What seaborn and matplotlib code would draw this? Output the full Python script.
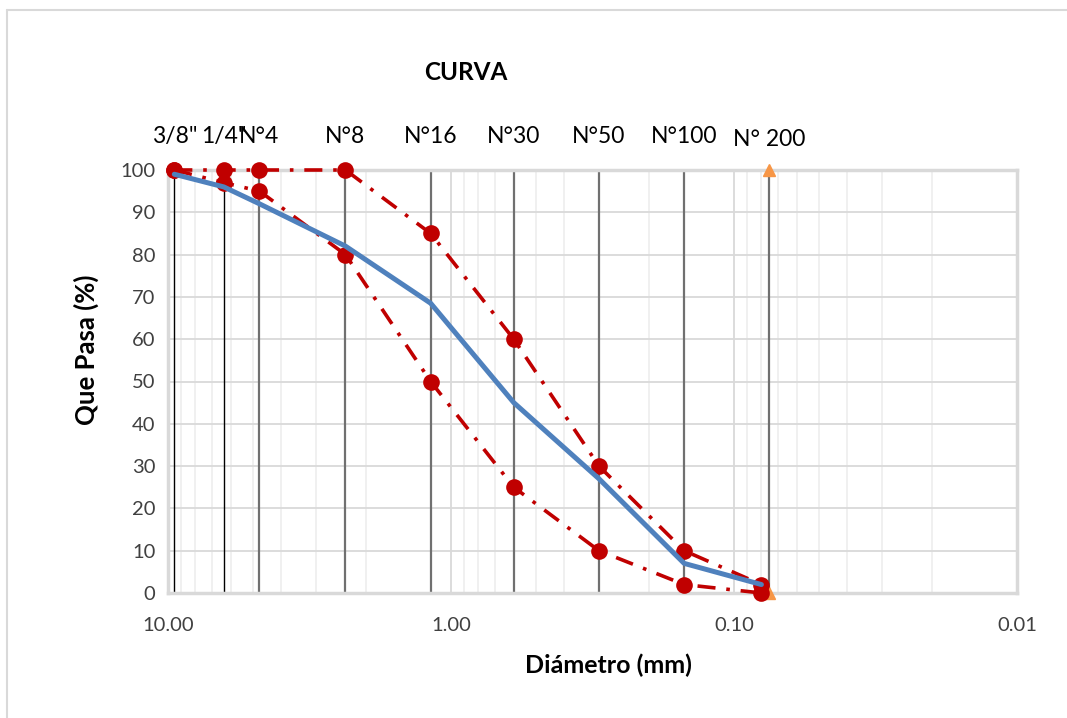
import matplotlib
matplotlib.use("Agg")
import matplotlib.pyplot as plt
import seaborn as sns
import numpy as np
import pandas as pd
from matplotlib.lines import Line2D
from matplotlib.ticker import FixedLocator, FuncFormatter, LogLocator, NullFormatter

# ---------------- data ----------------
sieve_labels = ['3/8"', '1/4"', 'N°4', 'N°8', 'N°16', 'N°30', 'N°50', 'N°100', 'N° 200']
sieve_mm = [9.5, 6.35, 4.75, 2.36, 1.18, 0.6, 0.3, 0.15, 0.075]
data_mm = [9.5, 6.35, 4.75, 2.36, 1.18, 0.6, 0.3, 0.15, 0.08]
curva = [99, 96, 92, 82, 68.5, 45, 27, 7, 2]
limite_sup = [100, 100, 100, 100, 85, 60, 30, 10, 2]
limite_inf = [100, 97, 95, 80, 50, 25, 10, 2, 0]
n200_marks = [100, 0]
x_ticks = [10, 1, 0.1, 0.01]
y_ticks = list(range(0, 101, 10))

# ---------------- style ----------------
sns.set_style("white")
plt.rcParams['font.family'] = ['Lato', 'DejaVu Sans']

W, H = 1067, 718
fig = plt.figure(figsize=(W / 100, H / 100), dpi=100)
ax = fig.add_axes([168 / W, 1 - 593 / H, (1017 - 168) / W, (593 - 170) / H])

ax.set_xscale('log')
ax.set_xlim(10, 0.01)
ax.set_ylim(0, 100)

# grid
ax.xaxis.set_major_locator(FixedLocator(x_ticks))
ax.xaxis.set_minor_locator(LogLocator(base=10, subs=np.arange(2, 10)))
ax.xaxis.set_minor_formatter(NullFormatter())
ax.xaxis.set_major_formatter(FuncFormatter(lambda v, p: f"{v:.2f}"))
ax.set_yticks(y_ticks)
ax.grid(which='major', axis='both', color='#D9D9D9', lw=1.3, zorder=0)
ax.grid(which='minor', axis='x', color='#EFEFEF', lw=1.3, zorder=0)
ax.set_axisbelow(True)

for s in ax.spines.values():
    s.set_color('#D9D9D9')
    s.set_linewidth(2.5)

ax.tick_params(axis='y', which='major', length=5, color='#D9D9D9', width=1.3,
               labelsize=14.5, labelcolor='#404040', pad=4)
ax.tick_params(axis='x', which='both', length=0, labelsize=14.5,
               labelcolor='#404040', pad=17)

# sieve vertical lines
for i, (d, lab) in enumerate(zip(sieve_mm, sieve_labels)):
    col = 'black' if i < 2 else '#707070'
    lw = 1.0 if i < 2 else 1.6
    ax.plot([d, d], [0, 100], color=col, lw=lw, zorder=2)
    yoff = 104.7 if lab == 'N° 200' else 105.4
    ax.text(d, yoff, lab, ha='center', va='bottom', fontsize=16.5,
            color='black', clip_on=False)

# N200 triangles
ax.plot([sieve_mm[-1]] * 2, n200_marks, linestyle='none', marker='^',
        color='#F79646', markersize=8, zorder=3, clip_on=False)

df = pd.DataFrame({'d': data_mm, 'curva': curva, 'sup': limite_sup, 'inf': limite_inf})

sns.lineplot(data=df, x='d', y='sup', sort=False, ax=ax, color='#C00000',
             lw=2.6, linestyle=(0, (5, 3, 1, 3)), marker='o', markersize=12,
             markeredgewidth=0, zorder=4, clip_on=False)
sns.lineplot(data=df, x='d', y='inf', sort=False, ax=ax, color='#C00000',
             lw=2.6, linestyle=(0, (5, 3, 1, 3)), marker='o', markersize=12,
             markeredgewidth=0, zorder=4, clip_on=False)
sns.lineplot(data=df, x='d', y='curva', sort=False, ax=ax, color='#4F81BD',
             lw=3.6, zorder=5, clip_on=False)

ax.set_xlabel('')
ax.set_ylabel('')

fig.text(466 / W, 1 - 73 / H, 'CURVA', ha='center', va='center',
         fontsize=17.5, fontweight='bold', color='black')
fig.text(86 / W, 1 - 350 / H, 'Que Pasa (%)', ha='center', va='center',
         rotation=90, fontsize=18.5, fontweight='bold', color='black')
fig.text(608 / W, 1 - 665 / H, 'Diámetro (mm)', ha='center', va='center',
         fontsize=18, fontweight='bold', color='black')

# outer chart border (top and left visible)
fig.add_artist(Line2D([7 / W, 1], [1 - 10 / H, 1 - 10 / H], color='#D9D9D9', lw=1.5))
fig.add_artist(Line2D([7 / W, 7 / W], [0, 1 - 10 / H], color='#D9D9D9', lw=1.5))

fig.savefig('out.png', dpi=100)
